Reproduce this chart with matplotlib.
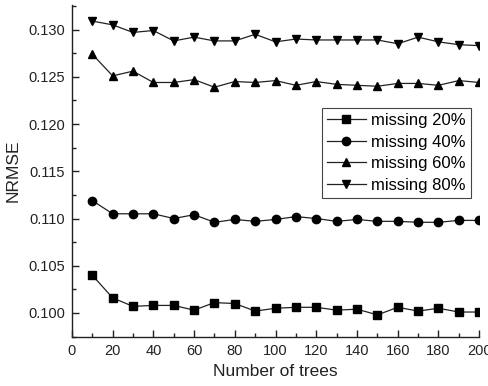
import matplotlib.pyplot as plt
from matplotlib.ticker import MultipleLocator

plt.rcParams['font.family'] = ['Liberation Sans', 'DejaVu Sans']

trees = [10, 20, 30, 40, 50, 60, 70, 80, 90, 100,
         110, 120, 130, 140, 150, 160, 170, 180, 190, 200]

miss20 = [0.1040, 0.1016, 0.1007, 0.1008, 0.1008, 0.1003, 0.1011, 0.1010, 0.1002, 0.1005,
          0.1006, 0.1006, 0.1003, 0.1004, 0.0998, 0.1006, 0.1002, 0.1005, 0.1001, 0.1001]
miss40 = [0.1119, 0.1105, 0.1105, 0.1105, 0.1100, 0.1104, 0.1096, 0.1099, 0.1097, 0.1099,
          0.1102, 0.1100, 0.1097, 0.1099, 0.1097, 0.1097, 0.1096, 0.1096, 0.1098, 0.1098]
miss60 = [0.1274, 0.1251, 0.1256, 0.1244, 0.1244, 0.1247, 0.1239, 0.1245, 0.1244, 0.1246,
          0.1241, 0.1245, 0.1242, 0.1241, 0.1240, 0.1243, 0.1243, 0.1241, 0.1246, 0.1244]
miss80 = [0.1309, 0.1305, 0.1297, 0.1299, 0.1288, 0.1292, 0.1288, 0.1288, 0.1295, 0.1287,
          0.1290, 0.1289, 0.1289, 0.1289, 0.1289, 0.1285, 0.1292, 0.1287, 0.1284, 0.1283]

series = [('missing 20%', miss20, 's'),
          ('missing 40%', miss40, 'o'),
          ('missing 60%', miss60, '^'),
          ('missing 80%', miss80, 'v')]

fig = plt.figure(figsize=(4.89, 3.86), dpi=100)
ax = fig.add_axes([0.147, 0.128, 0.833, 0.859])

for label, vals, m in series:
    ax.plot(trees, vals, color='#222222', linewidth=0.9, marker=m,
            markersize=6, markerfacecolor='black', markeredgecolor='black',
            label=label)

ax.set_xlim(0, 200)
ax.set_ylim(0.0975, 0.1326)
ax.xaxis.set_major_locator(MultipleLocator(20))
ax.xaxis.set_minor_locator(MultipleLocator(10))
ax.yaxis.set_major_locator(MultipleLocator(0.005))
ax.yaxis.set_minor_locator(MultipleLocator(0.0025))
ax.yaxis.set_major_formatter(plt.FormatStrFormatter('%.3f'))

for side in ['top', 'right']:
    ax.spines[side].set_visible(False)
for side in ['left', 'bottom']:
    ax.spines[side].set_linewidth(1.0)
    ax.spines[side].set_color('#222222')

ax.tick_params(which='both', direction='in', colors='#222222', labelsize=10.5, pad=5)
ax.tick_params(which='major', length=5, width=1)
ax.tick_params(which='minor', length=3, width=1)

ax.set_xlabel('Number of trees', fontsize=12.5, color='#222222', labelpad=5)
ax.set_ylabel('NRMSE', fontsize=12.5, color='#222222', labelpad=5)

leg = ax.legend(loc='upper left', bbox_to_anchor=(0.6135, 0.6895), fontsize=12,
                fancybox=False, framealpha=1, edgecolor='#444444',
                handlelength=2.35, borderpad=0.3, labelspacing=0.4,
                handletextpad=0.3, borderaxespad=0)
leg.get_frame().set_linewidth(0.8)

fig.savefig('out.png', dpi=100)
